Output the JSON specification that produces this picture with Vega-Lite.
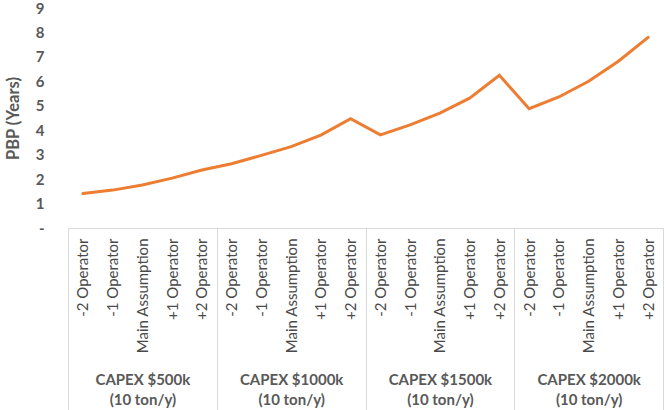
{
  "$schema": "https://vega.github.io/schema/vega-lite/v6.json",
  "width": 595,
  "height": 220,
  "autosize": {"type": "none"},
  "padding": {"left": 68, "top": 8, "right": 3, "bottom": 182},
  "background": "white",
  "config": {
    "view": {"stroke": null},
    "font": "Lato",
    "axis": {"grid": false}
  },
  "data": {
    "values": [
      {"group": "CAPEX $500k\n(10 ton/y)", "id": "CAPEX $500k / -2 Operator", "scenario": "-2 Operator", "pbp": 1.41},
      {"group": "CAPEX $500k\n(10 ton/y)", "id": "CAPEX $500k / -1 Operator", "scenario": "-1 Operator", "pbp": 1.55},
      {"group": "CAPEX $500k\n(10 ton/y)", "id": "CAPEX $500k / Main Assumption", "scenario": "Main Assumption", "pbp": 1.76},
      {"group": "CAPEX $500k\n(10 ton/y)", "id": "CAPEX $500k / +1 Operator", "scenario": "+1 Operator", "pbp": 2.04},
      {"group": "CAPEX $500k\n(10 ton/y)", "id": "CAPEX $500k / +2 Operator", "scenario": "+2 Operator", "pbp": 2.37},
      {"group": "CAPEX $1000k\n(10 ton/y)", "id": "CAPEX $1000k / -2 Operator", "scenario": "-2 Operator", "pbp": 2.63},
      {"group": "CAPEX $1000k\n(10 ton/y)", "id": "CAPEX $1000k / -1 Operator", "scenario": "-1 Operator", "pbp": 2.97},
      {"group": "CAPEX $1000k\n(10 ton/y)", "id": "CAPEX $1000k / Main Assumption", "scenario": "Main Assumption", "pbp": 3.33},
      {"group": "CAPEX $1000k\n(10 ton/y)", "id": "CAPEX $1000k / +1 Operator", "scenario": "+1 Operator", "pbp": 3.8},
      {"group": "CAPEX $1000k\n(10 ton/y)", "id": "CAPEX $1000k / +2 Operator", "scenario": "+2 Operator", "pbp": 4.47},
      {"group": "CAPEX $1500k\n(10 ton/y)", "id": "CAPEX $1500k / -2 Operator", "scenario": "-2 Operator", "pbp": 3.81},
      {"group": "CAPEX $1500k\n(10 ton/y)", "id": "CAPEX $1500k / -1 Operator", "scenario": "-1 Operator", "pbp": 4.22},
      {"group": "CAPEX $1500k\n(10 ton/y)", "id": "CAPEX $1500k / Main Assumption", "scenario": "Main Assumption", "pbp": 4.7},
      {"group": "CAPEX $1500k\n(10 ton/y)", "id": "CAPEX $1500k / +1 Operator", "scenario": "+1 Operator", "pbp": 5.31},
      {"group": "CAPEX $1500k\n(10 ton/y)", "id": "CAPEX $1500k / +2 Operator", "scenario": "+2 Operator", "pbp": 6.25},
      {"group": "CAPEX $2000k\n(10 ton/y)", "id": "CAPEX $2000k / -2 Operator", "scenario": "-2 Operator", "pbp": 4.88},
      {"group": "CAPEX $2000k\n(10 ton/y)", "id": "CAPEX $2000k / -1 Operator", "scenario": "-1 Operator", "pbp": 5.36},
      {"group": "CAPEX $2000k\n(10 ton/y)", "id": "CAPEX $2000k / Main Assumption", "scenario": "Main Assumption", "pbp": 6.0},
      {"group": "CAPEX $2000k\n(10 ton/y)", "id": "CAPEX $2000k / +1 Operator", "scenario": "+1 Operator", "pbp": 6.82},
      {"group": "CAPEX $2000k\n(10 ton/y)", "id": "CAPEX $2000k / +2 Operator", "scenario": "+2 Operator", "pbp": 7.8}
    ]
  },
  "encoding": {
    "y": {
      "field": "pbp",
      "type": "quantitative",
      "scale": {"domain": [0, 9], "nice": false},
      "axis": {
        "title": "PBP (Years)",
        "titleFont": "Lato",
        "titleFontSize": 16.5,
        "titleFontWeight": "bold",
        "titleColor": "#595959",
        "titlePadding": 14,
        "values": [0, 1, 2, 3, 4, 5, 6, 7, 8, 9],
        "labelExpr": "datum.value == 0 ? '-' : datum.label",
        "labelFont": "Lato",
        "labelFontSize": 15,
        "labelFontWeight": "bold",
        "labelColor": "#595959",
        "labelPadding": 24,
        "ticks": false,
        "tickSize": 0,
        "domain": false,
        "grid": false
      }
    }
  },
  "layer": [
    {
      "mark": {"type": "line", "color": "#ED7D31", "strokeWidth": 3, "strokeCap": "round", "strokeJoin": "miter"},
      "encoding": {
        "x": {
          "field": "id",
          "type": "ordinal",
          "sort": null,
          "scale": {"type": "point", "padding": 0.5},
          "axis": {
            "orient": "bottom",
            "title": null,
            "labelAngle": -90,
            "labelExpr": "split(datum.label, ' / ')[1]",
            "labelFont": "Lato",
            "labelFontSize": 15,
            "labelColor": "#4a4a4a",
            "labelPadding": 10,
            "labelLimit": 300,
            "labelOverlap": false,
            "ticks": false,
            "tickSize": 0,
            "domain": true,
            "domainColor": "#d9d9d9",
            "domainWidth": 1
          }
        }
      }
    },
    {
      "mark": {"type": "point", "opacity": 0},
      "encoding": {
        "x": {
          "field": "group",
          "type": "ordinal",
          "sort": null,
          "scale": {"type": "band", "paddingInner": 0, "paddingOuter": 0},
          "axis": {
            "orient": "bottom",
            "title": null,
            "labelAngle": 0,
            "labelExpr": "split(datum.label, '\\n')",
            "labelFont": "Lato",
            "labelFontSize": 15,
            "labelFontWeight": "bold",
            "labelColor": "#595959",
            "labelLineHeight": 20,
            "labelBaseline": "top",
            "labelPadding": -38,
            "labelLimit": 300,
            "ticks": true,
            "tickBand": "extent",
            "tickSize": 182,
            "tickColor": "#d9d9d9",
            "tickWidth": 1,
            "domain": true,
            "domainColor": "#d9d9d9"
          }
        }
      }
    }
  ],
  "resolve": {"scale": {"x": "independent"}, "axis": {"x": "independent"}}
}
